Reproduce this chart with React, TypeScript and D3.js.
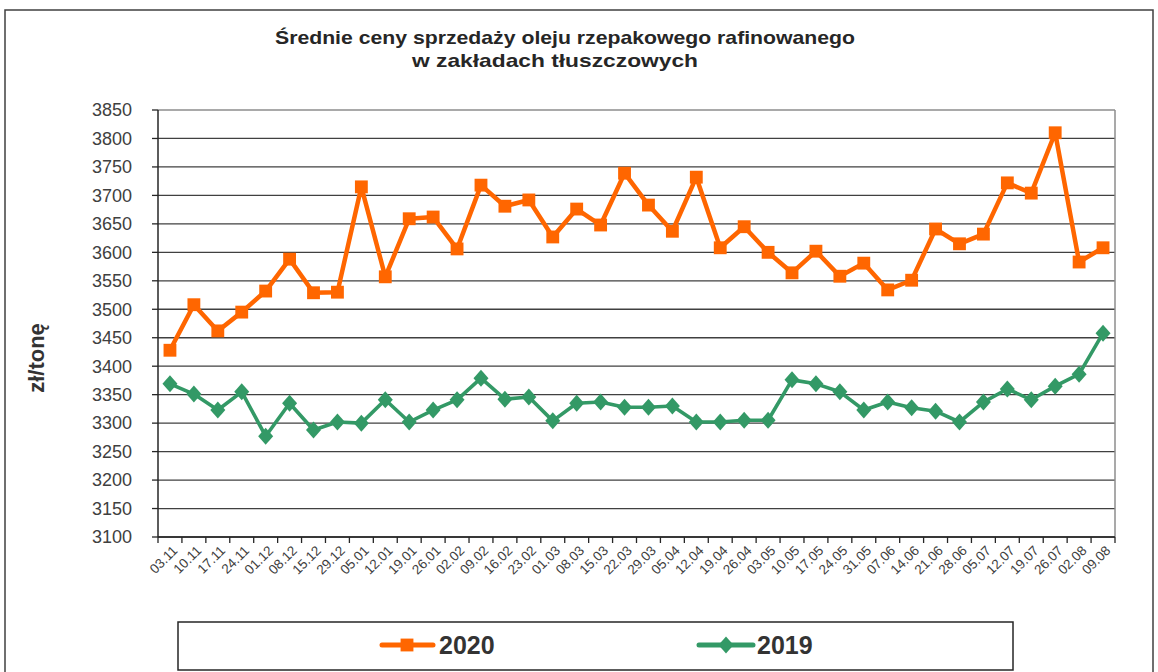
import React, { useEffect } from 'react';
import * as d3 from 'd3';

const categories = [
  '03.11', '10.11', '17.11', '24.11', '01.12', '08.12', '15.12', '29.12', '05.01', '12.01',
  '19.01', '26.01', '02.02', '09.02', '16.02', '23.02', '01.03', '08.03', '15.03', '22.03',
  '29.03', '05.04', '12.04', '19.04', '26.04', '03.05', '10.05', '17.05', '24.05', '31.05',
  '07.06', '14.06', '21.06', '28.06', '05.07', '12.07', '19.07', '26.07', '02.08', '09.08',
];

const values2020 = [
  3428, 3508, 3462, 3495, 3532, 3588, 3529, 3530, 3715, 3557,
  3659, 3662, 3606, 3718, 3681, 3692, 3627, 3676, 3648, 3739,
  3683, 3637, 3732, 3608, 3645, 3600, 3564, 3602, 3558, 3581,
  3534, 3551, 3641, 3615, 3632, 3722, 3704, 3810, 3583, 3608,
];

const values2019 = [
  3369, 3351, 3323, 3355, 3277, 3335, 3288, 3302, 3300, 3341,
  3302, 3323, 3341, 3379, 3342, 3346, 3304, 3335, 3337, 3328,
  3328, 3330, 3302, 3302, 3305, 3305, 3376, 3369, 3355, 3323,
  3337, 3327, 3321, 3302, 3337, 3360, 3341, 3365, 3386, 3458,
];

const yTicks = d3.range(3100, 3851, 50);

const ORANGE = '#FF6600';
const GREEN = '#339966';
const FONT = '"Liberation Sans", Arial, sans-serif';

const W = 1158;
const H = 672;
const plot = { left: 158, right: 1115, top: 110, bottom: 537 };

// diamond marker, a little wider than d3's symbolDiamond
const diamond = (hw: number, hh: number) => `M0,${-hh}L${hw},0L0,${hh}L${-hw},0Z`;

export default function App() {
  useEffect(() => {
    document.body.style.margin = '0';
  }, []);

  const x = d3.scaleBand<string>().domain(categories).range([plot.left, plot.right]);
  const y = d3.scaleLinear().domain([3100, 3850]).range([plot.bottom, plot.top]);
  const cx = (c: string) => (x(c) as number) + x.bandwidth() / 2;

  const line = d3.line<number>()
    .x((_, i) => cx(categories[i]))
    .y(d => y(d));

  const square = d3.symbol().type(d3.symbolSquare).size(165)() as string;
  const dia = diamond(7.5, 8.5);

  return (
    <svg width={W} height={H} style={{ display: 'block', background: '#fff' }} fontFamily={FONT}>
      {/* outer frame */}
      <path d={`M5,${H + 5} V10 H1153 V${H + 5}`} fill="none" stroke="#404040" strokeWidth={1.5} />

      {/* title */}
      <text x={565} y={44} textAnchor="middle" fontSize={19} fontWeight="bold" fill="#262626"
        textLength={580} lengthAdjust="spacingAndGlyphs">
        Średnie ceny sprzedaży oleju rzepakowego rafinowanego
      </text>
      <text x={555} y={67} textAnchor="middle" fontSize={19} fontWeight="bold" fill="#262626"
        textLength={286} lengthAdjust="spacingAndGlyphs">
        w zakładach tłuszczowych
      </text>

      {/* grid */}
      {yTicks.map(t => (
        <line key={t} x1={plot.left} x2={plot.right} y1={y(t)} y2={y(t)}
          stroke={t === 3850 ? '#8c8c8c' : '#404040'} strokeWidth={t === 3850 ? 1.5 : 1.3} />
      ))}
      <line x1={plot.right} x2={plot.right} y1={plot.top} y2={plot.bottom} stroke="#8c8c8c" strokeWidth={1.5} />

      {/* y axis */}
      <line x1={plot.left} x2={plot.left} y1={plot.top} y2={plot.bottom} stroke="#262626" strokeWidth={1.5} />
      {yTicks.map(t => (
        <g key={t}>
          <line x1={plot.left - 6} x2={plot.left} y1={y(t)} y2={y(t)} stroke="#262626" strokeWidth={1.3} />
          <text x={plot.left - 26} y={y(t)} dy="0.35em" textAnchor="end" fontSize={18} fill="#404040">{t}</text>
        </g>
      ))}
      <text transform="translate(44, 358) rotate(-90)" textAnchor="middle"
        fontSize={22} fontWeight="bold" fill="#333">zł/tonę</text>

      {/* x axis */}
      <line x1={plot.left} x2={plot.right} y1={plot.bottom} y2={plot.bottom} stroke="#262626" strokeWidth={1.5} />
      {categories.map(c => (
        <line key={'t' + c} x1={x(c) as number} x2={x(c) as number} y1={plot.bottom} y2={plot.bottom + 6}
          stroke="#262626" strokeWidth={1.3} />
      ))}
      <line x1={plot.right} x2={plot.right} y1={plot.bottom} y2={plot.bottom + 6} stroke="#262626" strokeWidth={1.3} />
      {categories.map(c => (
        <text key={'l' + c} transform={`translate(${cx(c) + 5}, ${plot.bottom + 11}) rotate(-45)`}
          textAnchor="end" fontSize={13.5} fill="#404040" dy="0.35em">{c}</text>
      ))}

      {/* series */}
      <path d={line(values2019) as string} fill="none" stroke={GREEN} strokeWidth={3.6} strokeLinejoin="round" />
      {values2019.map((v, i) => (
        <path key={'g' + i} d={dia} transform={`translate(${cx(categories[i])}, ${y(v)})`} fill={GREEN} />
      ))}
      <path d={line(values2020) as string} fill="none" stroke={ORANGE} strokeWidth={4.5} strokeLinejoin="round" />
      {values2020.map((v, i) => (
        <path key={'o' + i} d={square} transform={`translate(${cx(categories[i])}, ${y(v)})`} fill={ORANGE} />
      ))}

      {/* legend */}
      <rect x={178} y={622} width={835} height={48} fill="#fff" stroke="#262626" strokeWidth={1.5} />
      <line x1={382} x2={433} y1={645} y2={645} stroke={ORANGE} strokeWidth={5} strokeLinecap="round" />
      <path d={square} transform="translate(407, 645)" fill={ORANGE} />
      <text x={439} y={645} dy="0.36em" fontSize={25} fontWeight="bold" fill="#333">2020</text>
      <line x1={699} x2={753} y1={645} y2={645} stroke={GREEN} strokeWidth={5} strokeLinecap="round" />
      <path d={dia} transform="translate(726, 645)" fill={GREEN} />
      <text x={757} y={645} dy="0.36em" fontSize={25} fontWeight="bold" fill="#333">2019</text>
    </svg>
  );
}
